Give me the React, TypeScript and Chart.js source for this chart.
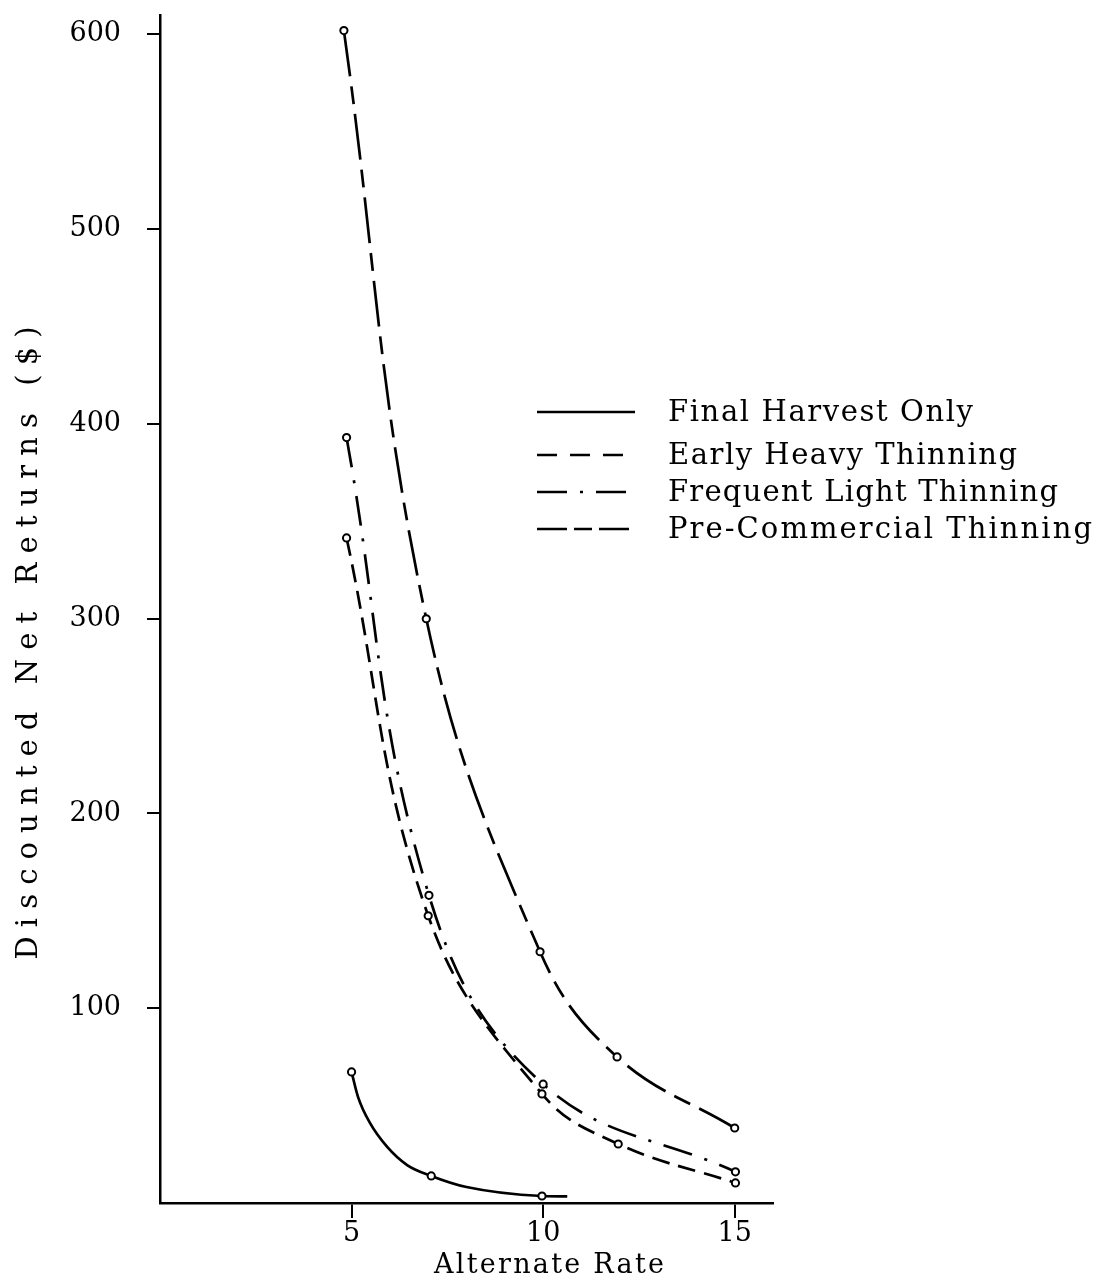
import { useEffect, useRef } from "react";
import { Chart, registerables } from "chart.js";

Chart.register(...registerables);

// ---- data ----
const xTickValues = [5, 10, 15];
const yTickValues = [100, 200, 300, 400, 500, 600];
const xTitle = "Alternate Rate";
const yTitle = "Discounted Net Returns ($)";
const seriesNames = [
  "Final Harvest Only",
  "Early Heavy Thinning",
  "Frequent Light Thinning",
  "Pre-Commercial Thinning",
];

// Final Harvest Only: marked points plus positions
const finalX = [5.0, 5.17, 5.48, 5.93, 6.45, 7.08, 8.0, 9.97, 10.63];
const finalY = [67.3, 54.4, 41.1, 28.8, 19.5, 13.9, 8.2, 3.6, 3.4];
const finalMarkers = [true, false, false, false, false, true, false, true, false];

const earlyX = [4.87, 7.0, 9.97, 11.96, 15.02];
const earlyY = [341.5, 147.5, 56, 30.3, 10.3];

const frequentX = [4.87, 7.02, 10.0, 15.02];
const frequentY = [393, 158, 61, 16];

const preX = [4.8, 6.95, 9.92, 11.93, 15.0];
const preY = [602, 300, 129, 75, 38.5];

// ---- styles ----
const FONT = "'DejaVu Serif', 'Liberation Serif', serif";
const INK = "#000000";

const plotDashes: number[][] = [[], [18, 9], [30, 13, 3, 13], [46, 10, 18, 10]];
const legendDashes: number[][] = [[], [20, 13], [30, 13, 3, 13], [30, 7, 18, 7]];
const legendLineEnd = [635, 625, 627, 629];
const legendRowY = [412, 455, 492, 529];
const legendTextWidth = [305, 349, 390, 424];

function toPoints(xs: number[], ys: number[]) {
  return xs.map((x, i) => ({ x, y: ys[i] }));
}

function fitText(
  ctx: CanvasRenderingContext2D,
  text: string,
  x: number,
  y: number,
  width: number,
  align: "left" | "center"
) {
  (ctx as any).letterSpacing = "0px";
  const w = ctx.measureText(text).width;
  const n = text.length;
  const s = n > 1 ? Math.max(0, (width - w) / (n - 1)) : 0;
  (ctx as any).letterSpacing = s + "px";
  const total = w + s * (n - 1);
  const startX = align === "center" ? x - total / 2 : x;
  ctx.textAlign = "left";
  ctx.fillText(text, startX, y);
  (ctx as any).letterSpacing = "0px";
}

const overlayPlugin = {
  id: "overlay",
  afterDraw(chart: any) {
    const ctx: CanvasRenderingContext2D = chart.ctx;
    ctx.save();
    ctx.fillStyle = INK;
    ctx.strokeStyle = INK;
    ctx.textBaseline = "middle";

    // legend
    ctx.font = `29px ${FONT}`;
    for (let i = 0; i < seriesNames.length; i++) {
      const y = legendRowY[i];
      ctx.beginPath();
      ctx.lineWidth = 2.5;
      ctx.setLineDash(legendDashes[i]);
      ctx.moveTo(537, y);
      ctx.lineTo(legendLineEnd[i], y);
      ctx.stroke();
      ctx.setLineDash([]);
      fitText(ctx, seriesNames[i], 668, y + 1, legendTextWidth[i], "left");
    }

    // x title
    ctx.font = `27px ${FONT}`;
    fitText(ctx, xTitle, 549, 1266, 230, "center");

    // y title
    ctx.font = `29px ${FONT}`;
    ctx.save();
    ctx.translate(29, 643);
    ctx.rotate(-Math.PI / 2);
    fitText(ctx, yTitle, 0, 0, 633, "center");
    ctx.restore();

    ctx.restore();
  },
};

export default function App() {
  const canvasRef = useRef<HTMLCanvasElement | null>(null);

  useEffect(() => {
    const canvas = canvasRef.current;
    if (!canvas) return;

    const common = {
      borderColor: INK,
      borderWidth: 2.7,
      pointRadius: 3.6,
      pointBorderWidth: 2,
      pointBackgroundColor: "#ffffff",
      pointBorderColor: INK,
      tension: 0.4,
      fill: false,
    };

    const chart = new Chart(canvas, {
      type: "line",
      data: {
        datasets: [
          {
            ...common,
            label: seriesNames[0],
            data: toPoints(finalX, finalY),
            borderDash: plotDashes[0],
            cubicInterpolationMode: "monotone",
            pointRadius: finalMarkers.map((m) => (m ? 3.6 : 0)),
          },
          {
            ...common,
            label: seriesNames[1],
            data: toPoints(earlyX, earlyY),
            borderDash: plotDashes[1],
          },
          {
            ...common,
            label: seriesNames[2],
            data: toPoints(frequentX, frequentY),
            borderDash: plotDashes[2],
          },
          {
            ...common,
            label: seriesNames[3],
            data: toPoints(preX, preY),
            borderDash: plotDashes[3],
          },
        ],
      },
      options: {
        responsive: false,
        animation: false,
        layout: { padding: { top: 15, right: 326, bottom: 0, left: 0 } },
        plugins: {
          legend: { display: false },
          tooltip: { enabled: false },
          title: { display: false },
        },
        scales: {
          x: {
            type: "linear",
            min: 0,
            max: 16,
            afterFit(scale: any) {
              scale.height = 77;
              scale.paddingLeft = 0;
              scale.paddingRight = 0;
            },
            afterBuildTicks(scale: any) {
              scale.ticks = xTickValues.map((v) => ({ value: v }));
            },
            border: { display: true, color: INK, width: 2.5 },
            grid: {
              drawOnChartArea: false,
              drawTicks: true,
              tickLength: 15,
              color: INK,
              lineWidth: 2,
            },
            ticks: {
              color: INK,
              font: { family: FONT, size: 27 },
              padding: 0,
              maxRotation: 0,
              autoSkip: false,
              callback: (v: any) => String(v),
            },
          },
          y: {
            type: "linear",
            min: 0,
            max: 610,
            afterFit(scale: any) {
              scale.width = 160;
              scale.paddingTop = 0;
              scale.paddingBottom = 0;
            },
            afterBuildTicks(scale: any) {
              scale.ticks = yTickValues.map((v) => ({ value: v }));
            },
            border: { display: true, color: INK, width: 2.5 },
            grid: {
              drawOnChartArea: false,
              drawTicks: true,
              tickLength: 13,
              color: INK,
              lineWidth: 2,
            },
            ticks: {
              color: INK,
              font: { family: FONT, size: 27 },
              padding: 26,
              autoSkip: false,
              callback: (v: any) => String(v),
            },
          },
        },
      },
      plugins: [overlayPlugin],
    });

    return () => {
      chart.destroy();
    };
  }, []);

  return (
    <div
      style={{
        position: "absolute",
        left: 0,
        top: 0,
        width: 1099,
        height: 1280,
        background: "#ffffff",
      }}
    >
      <canvas ref={canvasRef} width={1099} height={1280} style={{ display: "block" }} />
    </div>
  );
}
